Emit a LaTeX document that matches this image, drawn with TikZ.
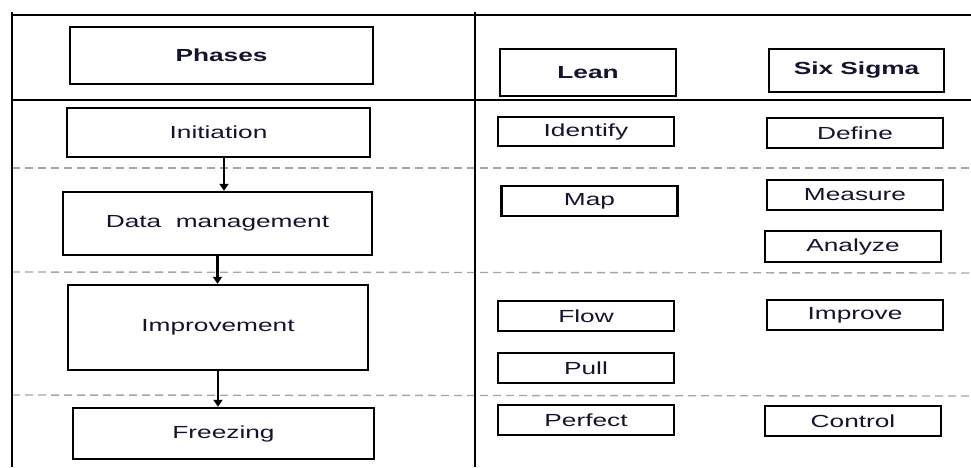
\documentclass[tikz,border=0pt]{standalone}
\usepackage{fontspec}
\setmainfont{Liberation Sans}[FakeStretch=1.5]
\usetikzlibrary{arrows.meta}
\definecolor{txt}{rgb}{0.08,0.08,0.18}
\tikzset{
  box/.style={draw=black, line width=2.4pt, inner sep=0pt, text=txt,
    font=\fontsize{17.5}{20}\selectfont},
  hbox/.style={box, font=\fontsize{17.5}{20}\selectfont\bfseries},
  tbox/.style={box, minimum width=176pt, minimum height=30pt},
  rule/.style={draw=black, line width=1.8pt},
  dline/.style={draw=gray!70, line width=1.4pt, dash pattern=on 8pt off 5pt},
  arr/.style={draw=black, line width=2.2pt, -{Triangle[width=9pt,length=7pt]}}
}
\begin{document}
\begin{tikzpicture}[x=1pt,y=-1pt]
\useasboundingbox (0,0) rectangle (971,467);
\fill[white] (0,0) rectangle (971,467);
% frame coordinates
\coordinate (tl) at (12,15); \coordinate (tr) at (971,15);
\coordinate (lt) at (12,12); \coordinate (bl) at (12,467);
\coordinate (mt) at (475,12); \coordinate (mb) at (475,467);
\coordinate (hl) at (12,100); \coordinate (hr) at (971,100);
\coordinate (d1l) at (12,168); \coordinate (d1r) at (971,168);
\coordinate (d2l) at (12,272); \coordinate (d2r) at (971,273);
\coordinate (d3l) at (12,395); \coordinate (d3r) at (971,396);
\draw[dline] (d1l) -- (d1r);
\draw[dline] (d2l) -- (d2r);
\draw[dline] (d3l) -- (d3r);
\draw[rule] (tl) -- (tr);
\draw[rule] (lt) -- (bl);
\draw[rule] (mt) -- (mb);
\draw[rule] (hl) -- (hr);
% left column
\node[hbox, minimum width=303pt, minimum height=57pt] (ph) at (221.5,55.5) {Phases};
\node[box, minimum width=303pt, minimum height=49pt] (init) at (218.5,132.5) {Initiation};
\node[box, minimum width=309pt, minimum height=63pt] (dm) at (217.5,223.5) {Data\ \ management};
\node[box, minimum width=300pt, minimum height=85pt] (imp) at (218,327.5) {Improvement};
\node[box, minimum width=301pt, minimum height=51pt] (frz) at (223.5,433.5) {Freezing};
\draw[arr] ([xshift=5.5pt]init.south) -- ([xshift=5.5pt]init.south |- dm.north);
\draw[arr] (dm.south) -- (dm.south |- imp.north);
\draw[arr] (imp.south) -- (imp.south |- frz.north);
% headers
\node[hbox, minimum width=176pt, minimum height=47pt] (lean) at (588,72.5) {Lean};
\node[hbox, minimum width=175pt, minimum height=43pt] (ss) at (856.5,70.5) {Six Sigma};
% lean
\node[tbox, minimum height=29pt] (ident) at (586,131.5) {Identify};
\node[tbox] (map) at (589.5,201) {Map};
\node[tbox] (flow) at (586,316) {Flow};
\node[tbox] (pull) at (586,368) {Pull};
\node[tbox] (perf) at (586,420) {Perfect};
% six sigma
\node[tbox] (def) at (855,133) {Define};
\node[tbox] (meas) at (855,195) {Measure};
\node[tbox, minimum height=31pt] (anal) at (853,246.5) {Analyze};
\node[tbox] (impr) at (855,315) {Improve};
\node[tbox] (ctrl) at (853,421) {Control};
\end{tikzpicture}
\end{document}
